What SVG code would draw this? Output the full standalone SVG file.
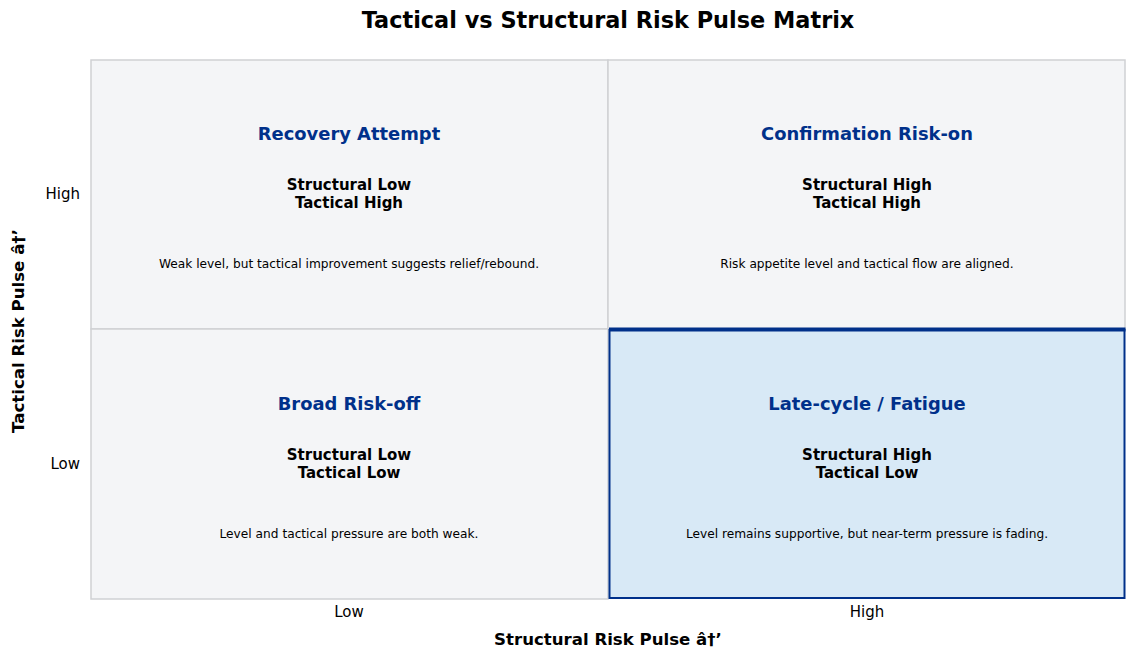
<svg xmlns="http://www.w3.org/2000/svg" width="1137" height="660" viewBox="0 0 1137 660">
<style>
text{font-family:"DejaVu Sans",sans-serif;text-anchor:middle}
.title{font-size:22.4px;font-weight:bold;fill:#000}
.qt{font-size:17.9px;font-weight:bold;fill:#00308a}
.sub{font-size:15px;font-weight:bold;fill:#000}
.desc{font-size:12.2px;fill:#000}
.tick{font-size:15px;fill:#000}
.axl{font-size:16.6px;font-weight:bold;fill:#000}
.cell{fill:#f4f5f7;stroke:#cfd1d4;stroke-width:1.5}
</style>
<rect width="1137" height="660" fill="#fff"/>
<text class="title" x="608" y="28">Tactical vs Structural Risk Pulse Matrix</text>
<g id="q-recovery">
<rect class="cell" x="91" y="60" width="517" height="269"/>
<text class="qt" x="349" y="140">Recovery Attempt</text>
<text class="sub" x="349" y="190">Structural Low</text>
<text class="sub" x="349" y="208">Tactical High</text>
<text class="desc" x="349" y="268">Weak level, but tactical improvement suggests relief/rebound.</text>
</g>
<g id="q-confirmation">
<rect class="cell" x="608" y="60" width="517" height="269"/>
<text class="qt" x="867" y="140">Confirmation Risk-on</text>
<text class="sub" x="867" y="190">Structural High</text>
<text class="sub" x="867" y="208">Tactical High</text>
<text class="desc" x="867" y="268">Risk appetite level and tactical flow are aligned.</text>
</g>
<g id="q-broad">
<rect class="cell" x="91" y="329" width="517" height="270"/>
<text class="qt" x="349" y="410">Broad Risk-off</text>
<text class="sub" x="349" y="460">Structural Low</text>
<text class="sub" x="349" y="478">Tactical Low</text>
<text class="desc" x="349" y="538">Level and tactical pressure are both weak.</text>
</g>
<g id="q-late">
<rect x="609.5" y="330" width="515" height="268" fill="#d8e9f6" stroke="#00308a" stroke-width="2"/>
<line x1="609" y1="329.5" x2="1125.5" y2="329.5" stroke="#00308a" stroke-width="4"/>
<text class="qt" x="867" y="410">Late-cycle / Fatigue</text>
<text class="sub" x="867" y="460">Structural High</text>
<text class="sub" x="867" y="478">Tactical Low</text>
<text class="desc" x="867" y="538">Level remains supportive, but near-term pressure is fading.</text>
</g>
<g id="axes">
<text class="tick" x="349" y="617">Low</text>
<text class="tick" x="867" y="617">High</text>
<text class="tick" x="80" y="199" style="text-anchor:end">High</text>
<text class="tick" x="80" y="469" style="text-anchor:end">Low</text>
<text class="axl" x="608" y="645">Structural Risk Pulse â†’</text>
<text class="axl" transform="translate(24 331) rotate(-90)">Tactical Risk Pulse â†’</text>
</g>
</svg>
